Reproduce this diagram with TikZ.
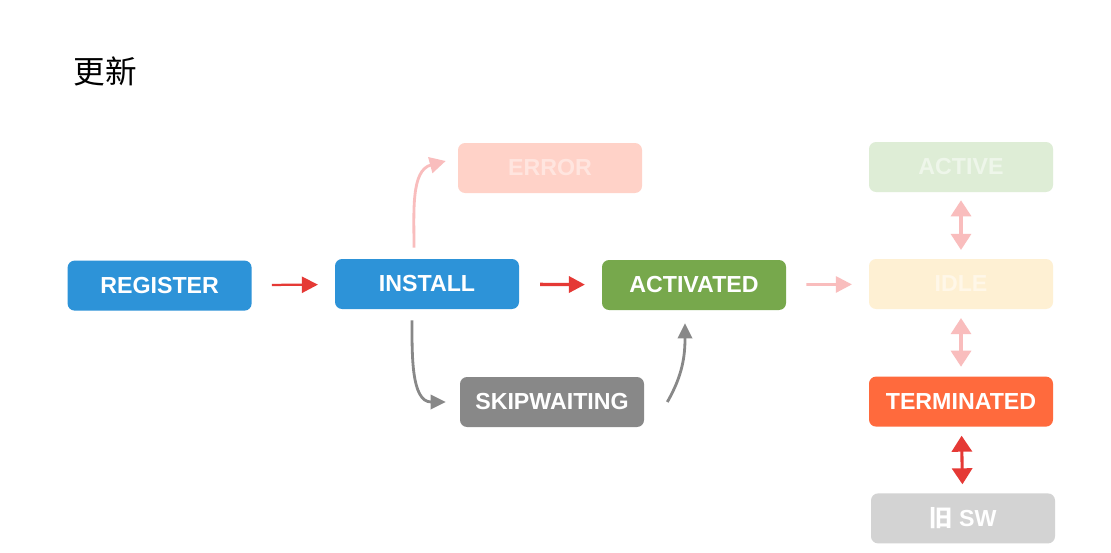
\documentclass[tikz,border=0pt]{standalone}
\usepackage{fontspec}
\setsansfont{Liberation Sans}
\newfontfamily\cjk{Noto Sans CJK SC}
\definecolor{swblue}{RGB}{45, 147, 216}
\definecolor{swgreen}{RGB}{119, 168, 76}
\definecolor{swgray}{RGB}{136, 136, 136}
\definecolor{swred}{RGB}{229, 57, 53}
\definecolor{sworange}{RGB}{255, 106, 61}
\definecolor{oldgray}{RGB}{211, 211, 211}
\definecolor{errbox}{RGB}{255, 210, 200}
\definecolor{errtext}{RGB}{255, 229, 223}
\definecolor{actbox}{RGB}{222, 237, 214}
\definecolor{acttext}{RGB}{238, 246, 234}
\definecolor{idlebox}{RGB}{254, 240, 211}
\definecolor{idletext}{RGB}{255, 247, 232}
\definecolor{fadepink}{RGB}{249, 189, 189}
\usetikzlibrary{arrows.meta, positioning, calc}

\begin{document}
\begin{tikzpicture}[
    statebox/.style={rounded corners=5pt, minimum width=4.6cm, minimum height=1.25cm,
      inner sep=0pt, font=\sffamily\bfseries\fontsize{16.5}{19}\selectfont, text=white},
    mainarrow/.style={-{Triangle[length=0.4cm, width=0.4cm]}, line width=2pt, swred},
    fadearrow/.style={-{Triangle[length=0.4cm, width=0.4cm]}, line width=2pt, fadepink},
    skiparrow/.style={-{Triangle[length=0.38cm, width=0.36cm]}, line width=2pt, swgray},
    bothways/.style={{Triangle[length=0.4cm, width=0.5cm]}-{Triangle[length=0.4cm, width=0.5cm]}, line width=2.2pt}
  ]
  \useasboundingbox[fill=white] (0,0) rectangle (27.775,-13.8);

  % Title
  \node[font=\cjk\fontsize{22.5}{26}\selectfont] (title) at (2.625,-1.775) {更新};

  % Main flow
  \node[statebox, fill=swblue] (register) at (3.99,-7.14) {REGISTER};
  \node[statebox, fill=swblue] (install) at (10.675,-7.1) {INSTALL};
  \node[statebox, fill=swgreen] (activated) at (17.35,-7.125) {ACTIVATED};
  \node[statebox, fill=errbox, text=errtext] (error) at (13.75,-4.2) {ERROR};
  \node[statebox, fill=swgray] (skipwaiting) at (13.8,-10.05) {SKIPWAITING};

  % Right column
  \node[statebox, fill=actbox, text=acttext] (active) at (24.025,-4.175) {ACTIVE};
  \node[statebox, fill=idlebox, text=idletext] (idle) at (24.025,-7.1) {IDLE};
  \node[statebox, fill=sworange] (terminated) at (24.025,-10.04) {TERMINATED};
  \node[statebox, fill=oldgray] (oldsw) at (24.075,-12.96) {{\cjk\bfseries 旧} SW};

  % Arrows
  \draw[mainarrow, line width=1.6pt, shorten <=0.5cm, shorten >=0.42cm] (register) -- (install);
  \draw[mainarrow, line width=2.4pt, shorten <=0.52cm, shorten >=0.42cm] (install) -- (activated);
  \draw[fadearrow, shorten <=0.5cm, shorten >=0.42cm] (activated) -- (idle);

  \draw[fadearrow] ($(install.north)+(-0.325,0.275)$) to[out=90, in=195] ($(error.west)+(-0.3,0.175)$);
  \draw[skiparrow] ($(install.south)+(-0.375,-0.275)$) to[out=-90, in=180] ($(skipwaiting.west)+(-0.35,0)$);
  \draw[skiparrow] ($(skipwaiting.east)+(0.575,0)$) to[out=60, in=-90] ($(activated.south)+(-0.225,-0.325)$);

  \draw[bothways, fadepink, shorten <=0.2cm, shorten >=0.22cm] (active) -- (idle);
  \draw[bothways, fadepink, shorten <=0.22cm, shorten >=0.24cm] (idle) -- (terminated);
  \draw[bothways, swred, shorten <=0.22cm, shorten >=0.22cm] (terminated) -- (oldsw);
\end{tikzpicture}
\end{document}
